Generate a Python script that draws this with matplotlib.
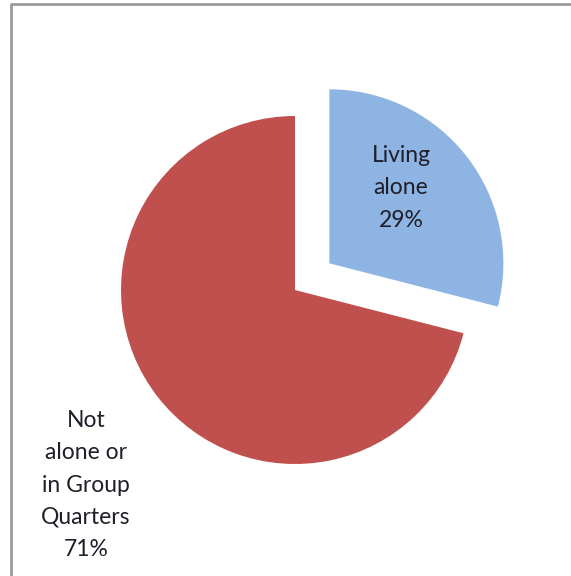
import matplotlib.pyplot as plt

# ==========================================
# DATA
# ==========================================

labels = ["Living\nalone", "Not\nalone or\nin Group\nQuarters"]
shares = [29, 71]
colors = ["#8DB4E2", "#C0504D"]
explode = [0.25, 0.0]  # fraction of radius

# ==========================================
# FIGURE
# ==========================================

W, H = 571, 576
R = 174

fig = plt.figure(figsize=(W / 100, H / 100), dpi=100)
ax = fig.add_axes([0, 0, 1, 1])

# pie explode is in data units, so scale by the radius
ax.pie(
    shares,
    colors=colors,
    explode=[e * R for e in explode],
    startangle=90,
    counterclock=False,
    center=(295, 286),
    radius=R,
    frame=True
)
ax.set_xlim(0, W)
ax.set_ylim(0, H)
ax.set_aspect("equal")
ax.axis("off")

# ==========================================
# LABELS
# ==========================================

label_pos = [(401, 388), (86, 91)]

for (x, y), name, val in zip(label_pos, labels, shares):
    ax.text(
        x, y,
        f"{name}\n{val}%",
        ha="center",
        va="center",
        fontsize=16.5,
        family=["Lato", "DejaVu Sans"],
        color="#1F1F2A",
        linespacing=1.65
    )

# border (top and left only, as cropped)
ax.plot([11, 11, W], [0, H - 4, H - 4], color="#9A9A9A", lw=2,
        solid_capstyle="butt")

fig.savefig("out.png", dpi=100)
plt.close()
